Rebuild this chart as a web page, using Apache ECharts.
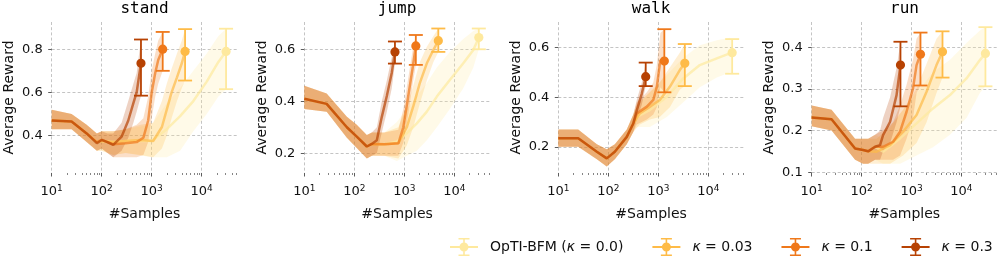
<!DOCTYPE html>
<html><head><meta charset="utf-8">
<script src="https://cdn.jsdelivr.net/npm/echarts@6/dist/echarts.min.js"></script>
<style>html,body{margin:0;padding:0;background:#fff}#c{width:997px;height:262px}</style>
</head><body><div id="c"></div>
<script>
// ---------- data ----------
const tasks = ['stand', 'jump', 'walk', 'run'];
const seriesNames = ['OpTI-BFM (κ = 0.0)', 'κ = 0.03', 'κ = 0.1', 'κ = 0.3'];
const xTicks = [10, 100, 1000, 10000];
const xMinorTicks = [20,30,40,50,60,70,80,90,200,300,400,500,600,700,800,900,
  2000,3000,4000,5000,6000,7000,8000,9000,20000,30000,40000,50000];
const yTicksStand = [0.4, 0.6, 0.8];
const yTicksJump = [0.2, 0.4, 0.6];
const yTicksWalk = [0.2, 0.4, 0.6];
const yTicksRun = [0.1, 0.2, 0.3, 0.4];

// rows: [samples, mean, lower, upper]; last row = final point with error bar
const stand_k00 = [[10,.47,.43,.52],[25,.465,.43,.50],[50,.41,.37,.45],[80,.37,.33,.41],[100,.375,.33,.42],[170,.37,.31,.42],[300,.375,.32,.43],[1000,.375,.30,.45],[2000,.43,.30,.55],[3700,.49,.33,.62],[6800,.56,.42,.70],[12600,.65,.50,.78],[21400,.74,.58,.86],[30700,.79,.615,.895]];
const stand_k03 = [[10,.47,.43,.52],[25,.465,.43,.50],[50,.41,.37,.45],[80,.37,.33,.41],[100,.375,.33,.42],[170,.37,.31,.42],[300,.375,.32,.43],[600,.38,.31,.45],[1070,.375,.30,.46],[1600,.44,.34,.56],[2000,.52,.40,.64],[2500,.60,.48,.71],[3200,.67,.56,.78],[4000,.735,.62,.84],[4650,.79,.655,.893]];
const stand_k10 = [[10,.47,.43,.52],[25,.465,.43,.50],[50,.41,.37,.45],[80,.37,.33,.41],[100,.38,.34,.42],[170,.36,.30,.42],[300,.365,.30,.43],[500,.37,.30,.45],[680,.39,.31,.48],[850,.47,.37,.58],[1000,.60,.48,.70],[1175,.69,.58,.78],[1350,.75,.64,.84],[1660,.80,.70,.88]];
const stand_k30 = [[10,.47,.43,.52],[25,.465,.43,.50],[50,.41,.37,.45],[80,.365,.33,.41],[100,.38,.34,.42],[130,.37,.32,.41],[170,.357,.30,.41],[250,.395,.33,.46],[340,.47,.39,.56],[430,.55,.46,.64],[500,.60,.51,.69],[610,.735,.585,.845]];

const jump_k00 = [[10,.41,.37,.46],[28,.39,.36,.43],[71,.30,.26,.34],[112,.264,.22,.31],[178,.226,.18,.27],[224,.236,.19,.28],[400,.235,.19,.28],[710,.245,.17,.32],[1120,.277,.19,.37],[1780,.315,.21,.42],[2820,.36,.25,.47],[4470,.418,.30,.53],[8130,.482,.37,.59],[15100,.546,.45,.64],[24000,.597,.53,.67],[30900,.645,.60,.68]];
const jump_k03 = [[10,.41,.37,.46],[28,.39,.36,.43],[71,.30,.26,.34],[112,.264,.22,.31],[178,.226,.18,.27],[224,.236,.19,.28],[400,.235,.19,.28],[760,.238,.18,.30],[1120,.30,.23,.38],[1510,.38,.30,.46],[2040,.47,.39,.55],[2820,.546,.48,.61],[3800,.597,.55,.65],[4790,.633,.59,.68]];
const jump_k10 = [[10,.41,.37,.46],[28,.39,.36,.43],[71,.30,.26,.34],[112,.264,.22,.31],[178,.226,.18,.27],[224,.236,.19,.28],[400,.235,.19,.28],[760,.238,.19,.29],[955,.30,.24,.37],[1200,.42,.35,.49],[1480,.533,.47,.60],[1700,.613,.54,.655]];
const jump_k30 = [[10,.41,.37,.46],[28,.39,.36,.43],[71,.30,.26,.34],[112,.264,.22,.31],[178,.226,.18,.27],[224,.236,.19,.28],[282,.25,.20,.30],[355,.34,.28,.40],[447,.42,.36,.48],[562,.51,.45,.57],[650,.59,.545,.63]];

const walk_k00 = [[10,.234,.20,.27],[25,.234,.20,.27],[59,.18,.15,.21],[93,.153,.12,.19],[135,.18,.15,.21],[234,.24,.21,.27],[316,.294,.26,.33],[372,.321,.28,.37],[676,.348,.28,.42],[1480,.402,.32,.49],[3160,.476,.38,.56],[6760,.53,.44,.61],[14800,.557,.48,.63],[26900,.577,.50,.64],[30000,.58,.495,.635]];
const walk_k03 = [[10,.234,.20,.27],[25,.234,.20,.27],[59,.18,.15,.21],[93,.153,.12,.19],[135,.18,.15,.21],[234,.24,.21,.27],[316,.294,.26,.33],[427,.335,.29,.38],[676,.362,.31,.42],[1070,.389,.32,.46],[1700,.442,.36,.52],[2690,.51,.43,.58],[3390,.537,.445,.615]];
const walk_k10 = [[10,.234,.20,.27],[25,.234,.20,.27],[59,.18,.15,.21],[93,.153,.12,.19],[135,.18,.15,.21],[234,.24,.21,.27],[316,.294,.26,.33],[372,.335,.29,.38],[590,.362,.31,.42],[794,.389,.33,.46],[933,.442,.36,.53],[1100,.55,.44,.66],[1320,.546,.42,.675]];
const walk_k30 = [[10,.234,.20,.27],[25,.234,.20,.27],[59,.18,.15,.21],[93,.153,.12,.19],[135,.18,.15,.21],[234,.24,.21,.27],[316,.294,.26,.33],[372,.348,.31,.39],[468,.415,.37,.46],[560,.483,.445,.54]];

const run_k00 = [[10,.231,.21,.26],[25,.227,.20,.25],[74,.157,.13,.18],[107,.153,.12,.18],[135,.150,.12,.18],[186,.161,.13,.19],[269,.149,.12,.18],[589,.181,.12,.24],[1260,.217,.14,.29],[2690,.253,.16,.34],[5890,.285,.19,.37],[12600,.325,.23,.41],[23400,.369,.29,.44],[30200,.385,.306,.448]];
const run_k03 = [[10,.231,.21,.26],[25,.227,.20,.25],[74,.157,.13,.18],[107,.153,.12,.18],[135,.150,.12,.18],[200,.149,.12,.18],[372,.165,.12,.21],[676,.197,.14,.25],[1260,.237,.17,.30],[2000,.293,.22,.36],[3160,.357,.29,.42],[4170,.389,.327,.438]];
const run_k10 = [[10,.231,.21,.26],[25,.227,.20,.25],[74,.157,.13,.18],[107,.153,.12,.18],[135,.150,.12,.18],[186,.161,.13,.19],[269,.161,.13,.20],[427,.173,.13,.22],[589,.197,.14,.26],[794,.245,.18,.31],[1070,.301,.23,.37],[1260,.357,.29,.42],[1510,.383,.308,.435]];
const run_k30 = [[10,.231,.21,.26],[25,.227,.20,.25],[74,.157,.13,.18],[107,.153,.12,.18],[135,.150,.12,.18],[186,.161,.13,.19],[234,.165,.13,.20],[269,.189,.15,.23],[372,.221,.17,.28],[501,.285,.22,.35],[600,.357,.258,.413]];

// ---------- layout / style ----------
const panels = [
  {rows: [stand_k00, stand_k03, stand_k10, stand_k30], yMin: 0.227, yMax: 0.926, yInt: 0.2, yTicks: yTicksStand},
  {rows: [jump_k00, jump_k03, jump_k10, jump_k30], yMin: 0.124, yMax: 0.705, yInt: 0.2, yTicks: yTicksJump},
  {rows: [walk_k00, walk_k03, walk_k10, walk_k30], yMin: 0.094, yMax: 0.704, yInt: 0.2, yTicks: yTicksWalk},
  {rows: [run_k00, run_k03, run_k10, run_k30], yMin: 0.098, yMax: 0.4604, yInt: 0.1, yTicks: yTicksRun}
];
const colors = ['#fee99e', '#febb47', '#ef781a', '#b74203'];
const gridLefts = [51.7, 304.3, 558.3, 811.7];
const gridTop = 22, gridW = 185.6, gridH = 151;
const xMin = 10, xMax = 51500;
const FONT = 'DejaVu Sans';
const txt = '#111';
const gridLineStyle = {color: '#b5b5b5', width: 0.8, type: [3, 2.2]};

const grids = [], xAxes = [], yAxes = [], series = [], graphics = [];
panels.forEach((p, gi) => {
  grids.push({left: gridLefts[gi], top: gridTop, width: gridW, height: gridH, containLabel: false});
  graphics.push({type: 'text', x: gridLefts[gi] + gridW / 2, y: 1,
    style: {text: tasks[gi], fontFamily: 'DejaVu Sans Mono', fontSize: 16, fill: '#000',
      textAlign: 'center', textVerticalAlign: 'top'}});
  xAxes.push({
    type: 'log', logBase: 10, gridIndex: gi, min: xMin, max: xMax, position: 'bottom',
    name: '#Samples', nameLocation: 'middle', nameGap: 34,
    nameTextStyle: {fontFamily: FONT, fontSize: 14, color: txt},
    axisLine: {show: false},
    axisTick: {show: true, length: 3.5, customValues: xTicks, lineStyle: {color: '#333', width: 0.8}},
    axisLabel: {show: true, margin: 11, customValues: xTicks,
      formatter: v => '{b|10}{s|' + Math.round(Math.log10(v)) + '}',
      rich: {
        b: {fontFamily: FONT, fontSize: 13, color: txt, lineHeight: 16},
        s: {fontFamily: FONT, fontSize: 9, color: txt, lineHeight: 9.5, verticalAlign: 'top'}
      }},
    splitLine: {show: true, lineStyle: gridLineStyle}
  });
  yAxes.push({
    type: 'value', gridIndex: gi, min: p.yMin, max: p.yMax, splitNumber: 3,
    minInterval: p.yInt, maxInterval: p.yInt,
    name: 'Average Reward', nameLocation: 'middle', nameGap: 35,
    nameTextStyle: {fontFamily: FONT, fontSize: 14, color: txt},
    axisLine: {show: false},
    axisTick: {show: true, length: 3.5, customValues: p.yTicks, lineStyle: {color: '#333', width: 0.8}},
    axisLabel: {margin: 9, customValues: p.yTicks,
      fontFamily: FONT, fontSize: 13, color: txt, formatter: v => v.toFixed(1)},
    splitLine: {show: true, lineStyle: gridLineStyle}
  });
});
// minor tick overlay axes
panels.forEach((p, gi) => {
  xAxes.push({
    type: 'log', logBase: 10, gridIndex: gi, min: xMin, max: xMax, position: 'bottom',
    axisLine: {show: false}, axisLabel: {show: false}, splitLine: {show: false},
    axisTick: {show: true, length: 2, customValues: xMinorTicks, lineStyle: {color: '#333', width: 0.6}}
  });
});

panels.forEach((p, gi) => {
  p.rows.forEach((rows, k) => {
    series.push({
      type: 'custom', name: seriesNames[k] + ' band', xAxisIndex: gi, yAxisIndex: gi,
      z: 1, silent: true, clip: true,
      data: rows.map(r => [r[0], r[2], r[3]]),
      encode: {x: 0, y: [1, 2]},
      renderItem: (params, api) => {
        if (params.dataIndex !== 0) return null;
        const lower = rows.map(r => api.coord([r[0], r[2]]));
        const upper = rows.map(r => api.coord([r[0], r[3]])).reverse();
        return {type: 'polygon', shape: {points: lower.concat(upper)},
          style: {fill: colors[k], opacity: 0.24}};
      }
    });
  });
});
panels.forEach((p, gi) => {
  p.rows.forEach((rows, k) => {
    series.push({
      type: 'line', name: seriesNames[k] + ' mean', xAxisIndex: gi, yAxisIndex: gi,
      z: 2, silent: true, symbol: 'none', showSymbol: false,
      data: rows.map(r => [r[0], r[1]]),
      lineStyle: {color: colors[k], width: 2.5, opacity: 0.7}
    });
  });
});
panels.forEach((p, gi) => {
  p.rows.forEach((rows, k) => {
    const c = colors[k];
    series.push({
      type: 'custom', name: seriesNames[k], xAxisIndex: gi, yAxisIndex: gi, z: 3,
      itemStyle: {color: c},
      data: [rows[rows.length - 1]],
      encode: {x: 0, y: [1, 2, 3]},
      renderItem: (params, api) => {
        const x = api.value(0);
        const pm = api.coord([x, api.value(1)]);
        const pl = api.coord([x, api.value(2)]);
        const ph = api.coord([x, api.value(3)]);
        const st = {stroke: c, lineWidth: 1.8};
        return {type: 'group', children: [
          {type: 'line', shape: {x1: pl[0], y1: pl[1], x2: ph[0], y2: ph[1]}, style: st},
          {type: 'line', shape: {x1: pl[0] - 7, y1: pl[1], x2: pl[0] + 7, y2: pl[1]}, style: st},
          {type: 'line', shape: {x1: ph[0] - 7, y1: ph[1], x2: ph[0] + 7, y2: ph[1]}, style: st},
          {type: 'circle', shape: {cx: pm[0], cy: pm[1], r: 4.6}, style: {fill: c}}
        ]};
      }
    });
  });
});

const legendIcon = 'path://M0 8H28V10H0Z M13.2 1H14.8V17H13.2Z M8.5 0H19.5V1.6H8.5Z M8.5 16.4H19.5V18H8.5Z M9.5 9A4.5 4.5 0 1 1 18.5 9A4.5 4.5 0 1 1 9.5 9Z';

const chart = echarts.init(document.getElementById('c'), null, {renderer: 'canvas'});
chart.setOption({
  animation: false,
  backgroundColor: '#fff',
  grid: grids, xAxis: xAxes, yAxis: yAxes, series: series,
  graphic: graphics,
  legend: {
    left: 450, top: 238, width: 600, padding: 0, orient: 'horizontal', itemWidth: 28, itemHeight: 18, itemGap: 29,
    data: seriesNames.map((n, k) => ({name: n, icon: legendIcon, itemStyle: {color: colors[k]}})),
    formatter: n => n.replace('κ', '{i|κ}'),
    textStyle: {fontFamily: FONT, fontSize: 14, color: txt, padding: [0, 0, 0, 7],
      rich: {i: {fontFamily: FONT, fontSize: 14, fontStyle: 'italic', color: txt}}},
    selectedMode: false
  }
});
</script></body></html>
